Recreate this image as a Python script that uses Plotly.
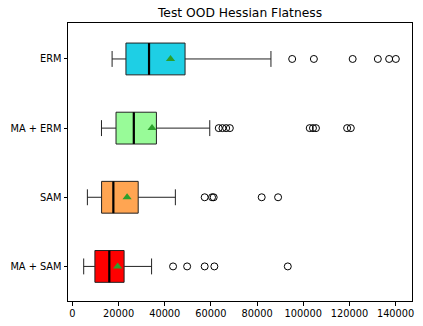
import plotly.graph_objects as go

categories = ["ERM", "MA + ERM", "SAM", "MA + SAM"]
positions = [4, 3, 2, 1]
colors = ["#1ecfe5", "#98fb98", "#ffa552", "#ff0000"]

lower_whisker = [17200, 12600, 6500, 4900]
q1_vals = [23200, 18900, 12650, 9750]
medians = [33200, 26600, 17750, 16000]
means = [42500, 34500, 23700, 19600]
q3_vals = [48800, 36400, 28500, 22400]
upper_whisker = [86000, 59500, 44600, 34300]

outliers = [
    [95200, 104600, 121400, 132300, 137200, 140100],
    [63400, 65000, 66600, 68200, 102800, 104200, 105500, 119000, 120600],
    [57300, 60500, 61200, 82000, 89100],
    [43600, 49700, 57300, 61500, 93300],
]

title_text = "Test OOD Hessian Flatness"
x_ticks = [0, 20000, 40000, 60000, 80000, 100000, 120000, 140000]

fig = go.Figure()
font_family = "DejaVu Sans"

for i, cat in enumerate(categories):
    fig.add_trace(go.Box(
        y=[positions[i]], q1=[q1_vals[i]], median=[medians[i]], q3=[q3_vals[i]],
        lowerfence=[lower_whisker[i]], upperfence=[upper_whisker[i]],
        orientation="h", fillcolor=colors[i],
        line=dict(color="#222222", width=1), width=0.46, whiskerwidth=0.5,
        boxpoints=False, showlegend=False, hoverinfo="skip",
    ))

# medians (thick black)
fig.add_trace(go.Scatter(
    x=medians, y=positions, mode="markers", showlegend=False,
    marker=dict(symbol="line-ns", size=22.6, line=dict(color="black", width=2.2)),
    hoverinfo="skip",
))

# outliers
for i in range(len(categories)):
    fig.add_trace(go.Scatter(
        x=outliers[i], y=[positions[i]] * len(outliers[i]), mode="markers",
        showlegend=False,
        marker=dict(symbol="circle-open", size=7, color="black", line=dict(width=1, color="black")),
    ))

# means
fig.add_trace(go.Scatter(
    x=means, y=positions, mode="markers", showlegend=False,
    marker=dict(symbol="triangle-up", size=8, color="#2ca02c", line=dict(width=0)),
))

fig.update_layout(
    width=423, height=326,
    margin=dict(l=68, r=11, t=23, b=25),
    paper_bgcolor="white", plot_bgcolor="white",
    font=dict(family=font_family, size=9.8, color="black"),
    title=dict(text=title_text, x=0.5675, xanchor="center", y=1 - 12.5 / 326,
               yanchor="middle", yref="container", font=dict(size=12.3, family=font_family, color="black")),
)
fig.update_xaxes(
    range=[-1900, 147100], tickmode="array", tickvals=x_ticks,
    ticktext=[str(v) for v in x_ticks], automargin=False,
    showgrid=False, zeroline=False, showline=True, mirror=True,
    linecolor="black", linewidth=1, ticks="outside", ticklen=3.5, tickcolor="black",
)
fig.update_yaxes(
    range=[0.5, 4.52], tickmode="array", tickvals=positions, ticktext=categories,
    automargin=False,
    showgrid=False, zeroline=False, showline=True, mirror=True,
    linecolor="black", linewidth=1, ticks="outside", ticklen=3.5, tickcolor="black",
)

fig.write_html(
    "out.html",
    config={"displayModeBar": False},
    post_script="document.body.style.margin='0';document.body.style.overflow='hidden';",
)
